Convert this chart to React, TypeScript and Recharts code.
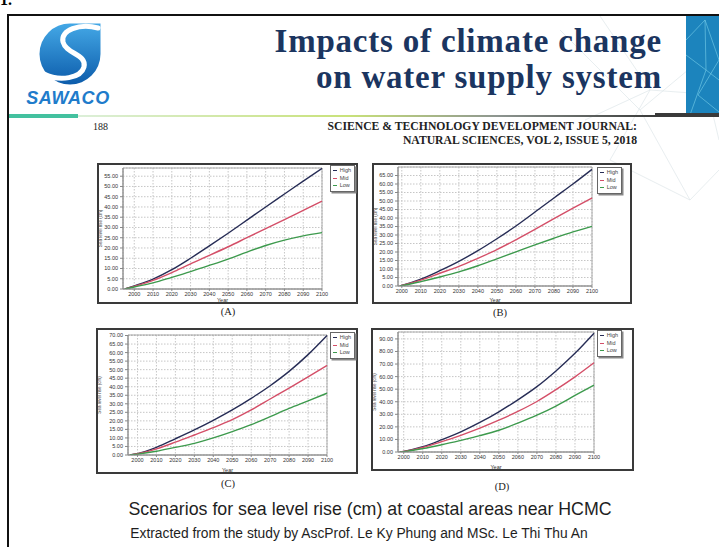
import React from 'react';
import {
  LineChart,
  Line,
  XAxis,
  YAxis,
  CartesianGrid,
  Legend,
  ReferenceArea,
} from 'recharts';

// x ticks shared by all four panels
const decadeYears = [2000, 2010, 2020, 2030, 2040, 2050, 2060, 2070, 2080, 2090, 2100];

const seriesNames = ['High', 'Mid', 'Low'];
const seriesColors = ['#272d56', '#d44f68', '#3d9a4d'];

// (A)
const startA = 1995;
const highA = [1.5, 4.8, 9.4, 15.0, 21.0, 27.2, 33.6, 40.0, 46.3, 52.6, 58.8];
const midA = [1.3, 4.2, 8.0, 12.3, 16.4, 20.6, 25.0, 29.4, 33.8, 38.3, 42.8];
const lowA = [1.0, 3.0, 5.7, 8.5, 11.5, 14.6, 18.0, 21.2, 23.8, 25.9, 27.5];
const yTicksA = [0, 5, 10, 15, 20, 25, 30, 35, 40, 45, 50, 55];

// (B)
const startB = 1999;
const highB = [0.3, 4.0, 9.0, 14.5, 20.8, 27.8, 35.3, 43.5, 51.8, 60.0, 68.6];
const midB = [0.3, 3.5, 7.5, 11.5, 16.3, 21.4, 27.2, 33.3, 39.6, 45.8, 51.8];
const lowB = [0.2, 2.6, 5.3, 8.3, 11.9, 16.0, 20.1, 24.2, 28.1, 31.8, 35.1];
const yTicksB = [0, 5, 10, 15, 20, 25, 30, 35, 40, 45, 50, 55, 60, 65];

// (C)
const startC = 1996;
const highC = [0.8, 4.5, 9.5, 14.7, 20.3, 26.4, 33.2, 40.6, 49.0, 58.8, 70.0];
const midC = [0.7, 3.6, 7.5, 11.7, 16.0, 20.7, 26.4, 32.8, 39.2, 45.8, 52.5];
const lowC = [0.5, 2.2, 4.5, 6.8, 10.0, 13.7, 17.8, 22.5, 27.3, 31.7, 36.2];
const yTicksC = [0, 5, 10, 15, 20, 25, 30, 35, 40, 45, 50, 55, 60, 65, 70];

// (D)
const startD = 1998;
const highD = [0.5, 4.2, 9.8, 16.0, 23.5, 32.0, 41.5, 52.0, 64.5, 78.5, 94.5];
const midD = [0.4, 3.6, 8.2, 13.3, 19.0, 25.3, 32.3, 40.2, 49.6, 59.8, 71.0];
const lowD = [0.3, 2.7, 5.8, 9.3, 13.0, 17.3, 23.0, 29.3, 36.6, 45.0, 53.2];
const yTicksD = [0, 10, 20, 30, 40, 50, 60, 70, 80, 90];

const buildRows = (start: number, high: number[], mid: number[], low: number[]) => [
  { year: start, High: 0, Mid: 0, Low: 0 },
  ...decadeYears.map((year, i) => ({ year, High: high[i], Mid: mid[i], Low: low[i] })),
];

const chartFont = '"Liberation Sans", Arial, sans-serif';
const serif = '"Liberation Serif", "Times New Roman", serif';

const LegendBox = () => (
  <div
    style={{
      background: '#fff',
      border: '1px solid #666',
      boxShadow: '1.5px 1.5px 0 #888',
      padding: '1px 3px 1px 2px',
      fontFamily: chartFont,
      fontSize: 5.5,
      lineHeight: '7.5px',
      color: '#444',
    }}
  >
    {seriesNames.map((name, i) => (
      <div key={name} style={{ display: 'flex', alignItems: 'center' }}>
        <span style={{ display: 'inline-block', width: 3.5, height: 1.2, background: seriesColors[i], marginRight: 3 }} />
        {name}
      </div>
    ))}
  </div>
);

interface Box { left: number; top: number; width: number; height: number }
interface Plot { left: number; top: number; right: number; bottom: number }

interface PanelProps {
  box: Box;
  plot: Plot;
  rows: { year: number; High: number; Mid: number; Low: number }[];
  xMin: number;
  yMax: number;
  yTicks: number[];
  legendRight: number;
  legendTop: number;
}

const Panel: React.FC<PanelProps> = ({ box, plot, rows, xMin, yMax, yTicks, legendRight, legendTop }) => {
  const innerL = box.left + 2;
  const innerT = box.top + 2;
  const w = box.width - 4;
  const h = box.height - 4;
  const margin = { top: plot.top - innerT, right: innerL + w - plot.right, left: 0, bottom: 0 };
  const tickStyle = { fontSize: 5.5, fill: '#333', fontFamily: chartFont };

  return (
    <div
      style={{
        position: 'absolute',
        left: box.left,
        top: box.top,
        width: box.width,
        height: box.height,
        border: '2px solid #3a3a3a',
        boxSizing: 'border-box',
        background: '#fff',
      }}
    >
      <LineChart width={w} height={h} data={rows} margin={margin}>
        <CartesianGrid stroke="#c6c6c6" strokeDasharray="1.5 1.5" />
        <ReferenceArea x1={xMin} x2={2100} y1={0} y2={yMax} fill="none" stroke="#9a9a9a" strokeWidth={0.8} />
        <XAxis
          dataKey="year"
          type="number"
          domain={[xMin, 2100]}
          ticks={decadeYears}
          interval={0}
          height={innerT + h - plot.bottom}
          tickSize={2}
          tickMargin={1}
          stroke="#888"
          tick={tickStyle}
          label={{ value: 'Year', position: 'insideBottom', offset: 0, fontSize: 5.5, fill: '#333', fontFamily: chartFont }}
        />
        <YAxis
          type="number"
          domain={[0, yMax]}
          ticks={yTicks}
          interval={0}
          allowDataOverflow
          width={plot.left - innerL}
          tickSize={3}
          tickMargin={2}
          stroke="#888"
          tick={tickStyle}
          tickFormatter={(v: number) => v.toFixed(2)}
          label={{
            value: 'Sea level rise (cm)',
            angle: -90,
            position: 'insideLeft',
            offset: 1.5,
            fontSize: 4.5,
            fill: '#444',
            fontFamily: chartFont,
            style: { textAnchor: 'middle' },
          }}
        />
        <Legend
          layout="vertical"
          align="center"
          verticalAlign="middle"
          wrapperStyle={{ right: legendRight, top: legendTop }}
          content={<LegendBox />}
        />
        {seriesNames.map((name, i) => (
          <Line
            key={name}
            type="monotone"
            dataKey={name}
            stroke={seriesColors[i]}
            strokeWidth={1.4}
            dot={false}
            isAnimationActive={false}
          />
        ))}
      </LineChart>
    </div>
  );
};

const Caption: React.FC<{ text: string; x: number; y: number }> = ({ text, x, y }) => (
  <div
    style={{
      position: 'absolute',
      left: x - 20,
      top: y - 7,
      width: 40,
      textAlign: 'center',
      fontFamily: serif,
      fontSize: 10.5,
      lineHeight: '14px',
      color: '#222',
    }}
  >
    {text}
  </div>
);

const Logo = () => (
  <svg width={130} height={110} style={{ position: 'absolute', left: 0, top: 10 }}>
    <defs>
      <linearGradient id="logoBlue" x1="0" y1="0" x2="0" y2="1">
        <stop offset="0" stopColor="#44a8e6" />
        <stop offset="1" stopColor="#0c5cab" />
      </linearGradient>
    </defs>
    <path
      d="M39.5 44 A30.5 30.5 0 0 1 70 13.5 L100.5 13.5 L100.5 44 A30.5 30.5 0 0 1 70 74.5 A30.5 30.5 0 0 1 39.5 44 Z"
      fill="url(#logoBlue)"
    />
    <path
      d="M98 18 C80 13 60 20 63 32 C66 44 87 44 84 57 C81 68 60 72 44 64"
      fill="none"
      stroke="#fff"
      strokeWidth={5}
      strokeLinecap="round"
    />
    <text
      x={68}
      y={94}
      textAnchor="middle"
      fontFamily={chartFont}
      fontWeight="bold"
      fontStyle="italic"
      fontSize={18}
      letterSpacing={0.6}
      fill="#1f7ccb"
    >
      SAWACO
    </text>
  </svg>
);

const titleLine: React.CSSProperties = {
  position: 'absolute',
  right: 57,
  textAlign: 'right',
  fontFamily: serif,
  fontWeight: 'bold',
  fontSize: 33,
  lineHeight: '36px',
  letterSpacing: 0.8,
  color: '#1b3560',
  whiteSpace: 'nowrap',
};

const journalLine: React.CSSProperties = {
  position: 'absolute',
  right: 82,
  textAlign: 'right',
  fontFamily: serif,
  fontWeight: 'bold',
  fontSize: 11.7,
  lineHeight: '14px',
  color: '#222',
  whiteSpace: 'nowrap',
};

const App: React.FC = () => (
  <div
    style={{
      position: 'absolute',
      left: 0,
      top: 0,
      width: 719,
      height: 547,
      overflow: 'hidden',
      background: '#fff',
    }}
  >
    <div style={{ position: 'absolute', left: 0, top: -9, fontFamily: serif, fontWeight: 'bold', fontSize: 16 }}>1.</div>

    {/* slide frame */}
    <div
      style={{
        position: 'absolute',
        left: 7,
        top: 14,
        width: 730,
        height: 560,
        borderLeft: '2px solid #111',
        borderTop: '2px solid #111',
      }}
    />

    {/* faint network decoration in the header corner */}
    <svg width={719} height={220} style={{ position: 'absolute', left: 0, top: 0 }}>
      <g stroke="#c9d6dc" strokeWidth={0.6} fill="none" opacity={0.7}>
        <path d="M560 30 L640 110 L700 60 L719 140" />
        <path d="M600 16 L650 90 L610 160 L690 200" />
        <path d="M640 110 L690 200 L719 170" />
        <path d="M585 120 L650 90 L719 95" />
      </g>
      <rect x={686} y={16} width={33} height={99} fill="#1c84bd" />
      <g stroke="#7fd6ee" strokeWidth={0.7} fill="none" opacity={0.8}>
        <path d="M686 40 L705 20 L719 60 L698 95 L719 112" />
        <path d="M690 115 L706 70 L686 55" />
        <path d="M705 20 L706 70 L719 80" />
      </g>
      <defs>
        <linearGradient id="rule" x1="0" y1="0" x2="1" y2="0">
          <stop offset="0" stopColor="#dcefd9" />
          <stop offset="0.45" stopColor="#c9e27a" />
          <stop offset="0.7" stopColor="#8d9590" />
          <stop offset="1" stopColor="#2e2e2e" />
        </linearGradient>
      </defs>
      <rect x={9} y={114} width={69} height={4} fill="#43c19f" />
      <rect x={78} y={115} width={600} height={2} fill="url(#rule)" />
      <rect x={655} y={113} width={64} height={4} fill="#3a3a3a" />
    </svg>

    <Logo />

    <div style={{ ...titleLine, top: 23 }}>Impacts of climate change</div>
    <div style={{ ...titleLine, top: 59 }}>on water supply system</div>

    <div style={{ position: 'absolute', left: 93, top: 121, fontFamily: serif, fontSize: 10, color: '#222' }}>188</div>
    <div style={{ ...journalLine, top: 120 }}>SCIENCE &amp; TECHNOLOGY DEVELOPMENT JOURNAL:</div>
    <div style={{ ...journalLine, top: 134 }}>NATURAL SCIENCES, VOL 2, ISSUE 5, 2018</div>

    <Panel
      box={{ left: 97, top: 163, width: 261, height: 141 }}
      plot={{ left: 123, top: 168, right: 322, bottom: 289 }}
      rows={buildRows(startA, highA, midA, lowA)}
      xMin={1994}
      yMax={59}
      yTicks={yTicksA}
      legendRight={1}
      legendTop={0}
    />
    <Caption text="(A)" x={228} y={312} />

    <Panel
      box={{ left: 372, top: 163, width: 260, height: 141 }}
      plot={{ left: 398, top: 167, right: 592, bottom: 286 }}
      rows={buildRows(startB, highB, midB, lowB)}
      xMin={1998}
      yMax={70}
      yTicks={yTicksB}
      legendRight={8}
      legendTop={2}
    />
    <Caption text="(B)" x={500} y={313} />

    <Panel
      box={{ left: 96, top: 328, width: 262, height: 146 }}
      plot={{ left: 128, top: 335, right: 327, bottom: 455 }}
      rows={buildRows(startC, highC, midC, lowC)}
      xMin={1995}
      yMax={70.3}
      yTicks={yTicksC}
      legendRight={1}
      legendTop={2}
    />
    <Caption text="(C)" x={228} y={484} />

    <Panel
      box={{ left: 371, top: 328, width: 263, height: 143 }}
      plot={{ left: 398, top: 332, right: 594, bottom: 452 }}
      rows={buildRows(startD, highD, midD, lowD)}
      xMin={1997}
      yMax={95.5}
      yTicks={yTicksD}
      legendRight={10}
      legendTop={0}
    />
    <Caption text="(D)" x={502} y={487} />

    <div
      style={{
        position: 'absolute',
        left: 0,
        width: 740,
        top: 498,
        textAlign: 'center',
        fontFamily: chartFont,
        fontSize: 17.8,
        lineHeight: '22px',
        color: '#1e1e1e',
      }}
    >
      Scenarios for sea level rise (cm) at coastal areas near HCMC
    </div>
    <div
      style={{
        position: 'absolute',
        left: 0,
        width: 718,
        top: 525,
        textAlign: 'center',
        fontFamily: chartFont,
        fontSize: 13.8,
        lineHeight: '17px',
        color: '#1e1e1e',
      }}
    >
      Extracted from the study by AscProf. Le Ky Phung and MSc. Le Thi Thu An
    </div>
  </div>
);

export default App;
